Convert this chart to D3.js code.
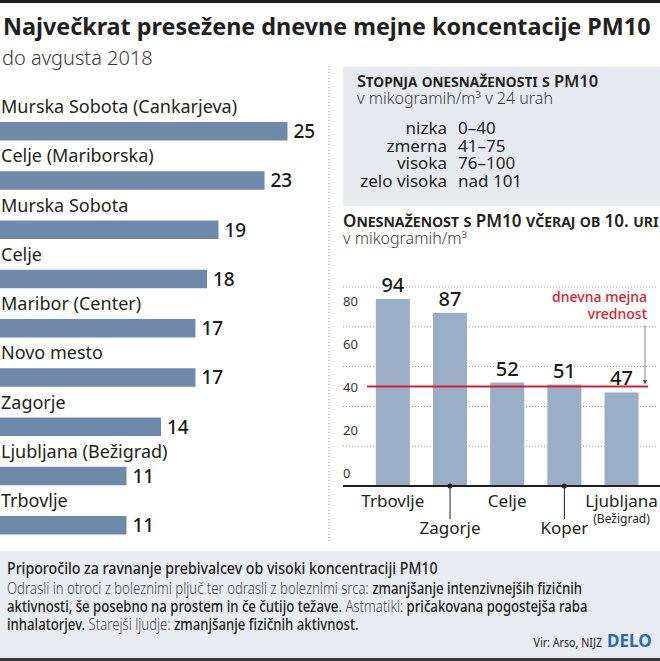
<!DOCTYPE html>
<html>
<head>
<meta charset="utf-8">
<script src="https://cdn.jsdelivr.net/npm/d3@7"></script>
<style>
  body { margin: 0; background: #fff; }
  text { font-family: "Noto Sans", "Open Sans", sans-serif; }
</style>
</head>
<body>
<script>
// Največkrat presežene dnevne mejne koncentracije PM10

var svgWidth = 660;
var svgHeight = 661;

// left chart: number of exceedances until August 2018
var stations = ["Murska Sobota (Cankarjeva)", "Celje (Mariborska)", "Murska Sobota", "Celje",
    "Maribor (Center)", "Novo mesto", "Zagorje", "Ljubljana (Bežigrad)", "Trbovlje"];
var exceedances = [25, 23, 19, 18, 17, 17, 14, 11, 11];

// right chart: PM10 yesterday at 10 am
var towns = ["Trbovlje", "Zagorje", "Celje", "Koper", "Ljubljana"];
var townNotes = ["", "", "", "", "(Bežigrad)"];
var pm10 = [94, 87, 52, 51, 47];
var dailyLimit = 50;
var yTicks = [0, 20, 40, 60, 80];
var yGrid = [20, 40, 60, 80, 100];

// legend table
var levels = ["nizka", "zmerna", "visoka", "zelo visoka"];
var levelRanges = ["0–40", "41–75", "76–100", "nad 101"];

// footer text, [text, emphasised]
var footerLines = [
    [["Odrasli in otroci z boleznimi pljuč ter odrasli z boleznimi srca: ", false], ["zmanjšanje intenzivnejših fizičnih", true]],
    [["aktivnosti, še posebno na prostem in če čutijo težave.", true], [" Astmatiki: ", false], ["pričakovana pogostejša raba", true]],
    [["inhalatorjev.", true], [" Starejši ljudje: ", false], ["zmanjšanje fizičnih aktivnost.", true]]
];

var svg = d3.select("body")
    .append("svg")
    .attr("width", svgWidth)
    .attr("height", svgHeight);

// the original uses a condensed face, so squeeze the group horizontally
function squeezeTo(g, x, width) {
    var w = g.node().getBBox().width;
    var k = width / w;
    g.attr("transform", "translate(" + x + ",0) scale(" + k + ",1)");
    return k;
}

// top rule
svg.append("rect")
    .attr("x", 0).attr("y", 0)
    .attr("width", svgWidth).attr("height", 3)
    .attr("fill", "#231f20");

var titleG = svg.append("g");
titleG.append("text")
    .attr("x", 0)
    .attr("y", 35)
    .attr("font-size", 24)
    .attr("font-weight", 700)
    .attr("fill", "#231f20")
    .text("Največkrat presežene dnevne mejne koncentacije PM10");
squeezeTo(titleG, 3, 648);

svg.append("text")
    .attr("x", 2)
    .attr("y", 65)
    .attr("font-size", 20)
    .attr("font-weight", 300)
    .attr("fill", "#3a3a3a")
    .text("do avgusta 2018");

// ---------- left chart ----------
var xLeft = d3.scaleLinear()
    .domain([0, 25])
    .range([0, 287.5]);

var yLeft = d3.scaleBand()
    .domain(stations)
    .range([104, 104 + 49.25 * stations.length]);

var left = svg.append("g");

var rows = left.selectAll("g.row")
    .data(stations)
    .enter()
    .append("g")
    .attr("class", "row")
    .attr("transform", function(d) { return "translate(0," + yLeft(d) + ")"; });

rows.append("text")
    .attr("x", 1)
    .attr("y", 9)
    .attr("font-size", 18)
    .attr("fill", "#231f20")
    .text(function(d) { return d; });

rows.append("rect")
    .attr("x", 0)
    .attr("y", 18)
    .attr("width", function(d, i) { return xLeft(exceedances[i]); })
    .attr("height", 18.5)
    .attr("fill", "#6f89aa");

rows.append("text")
    .attr("x", function(d, i) { return xLeft(exceedances[i]) + 6; })
    .attr("y", 34)
    .attr("font-size", 19)
    .attr("font-weight", 500)
    .attr("fill", "#1a1a1a")
    .text(function(d, i) { return exceedances[i]; });

// dotted separator
svg.append("line")
    .attr("x1", 329).attr("x2", 329)
    .attr("y1", 66).attr("y2", 541)
    .attr("stroke", "#8a8a8a")
    .attr("stroke-width", 1)
    .attr("stroke-dasharray", "1,2");

// ---------- legend box ----------
svg.append("rect")
    .attr("x", 343).attr("y", 67)
    .attr("width", svgWidth - 343).attr("height", 139)
    .attr("fill", "#e6eaef");

svg.append("text")
    .attr("x", 357)
    .attr("y", 87)
    .attr("font-size", 16.5)
    .attr("font-weight", 600)
    .attr("font-variant", "small-caps")
    .attr("fill", "#231f20")
    .text("Stopnja onesnaženosti s PM10");

svg.append("text")
    .attr("x", 357)
    .attr("y", 104)
    .attr("font-size", 16)
    .attr("font-weight", 300)
    .attr("fill", "#3a3a3a")
    .text("v mikogramih/m³ v 24 urah");

var legendRows = svg.append("g").selectAll("g")
    .data(levels)
    .enter()
    .append("g")
    .attr("transform", function(d, i) { return "translate(0," + (134 + i * 17.5) + ")"; });

legendRows.append("text")
    .attr("x", 447)
    .attr("text-anchor", "end")
    .attr("font-size", 17)
    .attr("fill", "#231f20")
    .text(function(d) { return d; });

legendRows.append("text")
    .attr("x", 458)
    .attr("font-size", 17)
    .attr("fill", "#231f20")
    .text(function(d, i) { return levelRanges[i]; });

svg.append("text")
    .attr("x", 343)
    .attr("y", 227)
    .attr("font-size", 17)
    .attr("font-weight", 600)
    .attr("font-variant", "small-caps")
    .attr("fill", "#231f20")
    .text("Onesnaženost s PM10 včeraj ob 10. uri");

svg.append("text")
    .attr("x", 343)
    .attr("y", 244)
    .attr("font-size", 16)
    .attr("font-weight", 300)
    .attr("fill", "#3a3a3a")
    .text("v mikogramih/m³");

// ---------- right chart ----------
var xRight = d3.scaleBand()
    .domain(towns)
    .range([364.4, 650])
    .paddingInner(0.405)
    .paddingOuter(0.2);

var yRight = d3.scaleLinear()
    .domain([0, 100])
    .range([486, 287]);

var right = svg.append("g");

right.selectAll("line.grid")
    .data(yGrid)
    .enter()
    .append("line")
    .attr("class", "grid")
    .attr("x1", 343).attr("x2", 656)
    .attr("y1", function(d) { return yRight(d); })
    .attr("y2", function(d) { return yRight(d); })
    .attr("stroke", "#9a9a9a")
    .attr("stroke-width", 1)
    .attr("stroke-dasharray", "1,2");

// tick labels sit a little above their gridlines
var leftAxis = d3.axisLeft(yRight)
    .tickValues(yTicks)
    .tickSize(0)
    .tickPadding(0);

var axisG = right.append("g")
    .attr("transform", "translate(343,0)")
    .call(leftAxis);
axisG.select(".domain").remove();
axisG.selectAll("text")
    .attr("text-anchor", "start")
    .attr("dy", function(d) { return -(9 + d * 0.15) + "px"; })
    .attr("font-size", 13)
    .attr("font-family", "Noto Sans, sans-serif")
    .attr("fill", "#333");

right.selectAll("rect.bar")
    .data(pm10)
    .enter()
    .append("rect")
    .attr("class", "bar")
    .attr("x", function(d, i) { return xRight(towns[i]); })
    .attr("y", function(d) { return yRight(d); })
    .attr("width", xRight.bandwidth())
    .attr("height", function(d) { return yRight(0) - yRight(d); })
    .attr("fill", "#9aaec7");

right.selectAll("text.value")
    .data(pm10)
    .enter()
    .append("text")
    .attr("class", "value")
    .attr("x", function(d, i) { return xRight(towns[i]) + xRight.bandwidth() / 2; })
    .attr("y", function(d) { return yRight(d) - 7; })
    .attr("text-anchor", "middle")
    .attr("font-size", 20)
    .attr("font-weight", 500)
    .attr("fill", "#1a1a1a")
    .attr("stroke", "#fff")
    .attr("stroke-width", 3)
    .attr("paint-order", "stroke")
    .text(function(d) { return d; });

// daily limit
right.append("line")
    .attr("x1", 367).attr("x2", 648)
    .attr("y1", yRight(dailyLimit)).attr("y2", yRight(dailyLimit))
    .attr("stroke", "#d7202f")
    .attr("stroke-width", 2);

var limitLabel = right.append("text")
    .attr("x", 647)
    .attr("y", 302)
    .attr("text-anchor", "end")
    .attr("font-size", 14)
    .attr("font-weight", 500)
    .attr("fill", "#d7202f");
limitLabel.append("tspan").attr("x", 647).text("dnevna mejna");
limitLabel.append("tspan").attr("x", 647).attr("dy", 17).text("vrednost");

svg.append("defs").append("marker")
    .attr("id", "arrow")
    .attr("viewBox", "0 0 6 6")
    .attr("refX", 5).attr("refY", 3)
    .attr("markerWidth", 6).attr("markerHeight", 6)
    .attr("orient", "auto")
    .append("path")
    .attr("d", "M0,0 L6,3 L0,6 Z")
    .attr("fill", "#555");

right.append("line")
    .attr("x1", 645).attr("x2", 645)
    .attr("y1", 325).attr("y2", yRight(dailyLimit) - 3)
    .attr("stroke", "#666")
    .attr("stroke-width", 0.8)
    .attr("marker-end", "url(#arrow)");

// baseline
right.append("line")
    .attr("x1", 343).attr("x2", svgWidth)
    .attr("y1", yRight(0)).attr("y2", yRight(0))
    .attr("stroke", "#231f20")
    .attr("stroke-width", 2);

// category labels, every second one dropped with a leader
var cats = right.selectAll("g.cat")
    .data(towns)
    .enter()
    .append("g")
    .attr("class", "cat")
    .attr("transform", function(d) { return "translate(" + (xRight(d) + xRight.bandwidth() / 2) + "," + yRight(0) + ")"; });

cats.filter(function(d, i) { return i % 2 === 1; })
    .append("line")
    .attr("y1", 0).attr("y2", 33)
    .attr("stroke", "#231f20")
    .attr("stroke-width", 1);

cats.filter(function(d, i) { return i % 2 === 1; })
    .append("circle")
    .attr("r", 2.5)
    .attr("fill", "#231f20");

cats.append("text")
    .attr("y", function(d, i) { return i % 2 === 1 ? 48 : 21; })
    .attr("text-anchor", "middle")
    .attr("font-size", 17)
    .attr("fill", "#231f20")
    .text(function(d) { return d; });

cats.append("text")
    .attr("y", 37)
    .attr("text-anchor", "middle")
    .attr("font-size", 12)
    .attr("fill", "#231f20")
    .text(function(d, i) { return townNotes[i]; });

// ---------- footer ----------
svg.append("rect")
    .attr("x", 0).attr("y", 551)
    .attr("width", svgWidth).attr("height", 107)
    .attr("fill", "#e8ebef");

svg.append("rect")
    .attr("x", 0).attr("y", 658)
    .attr("width", svgWidth).attr("height", 3)
    .attr("fill", "#3a3a3a");

var footTitleG = svg.append("g");
footTitleG.append("text")
    .attr("x", 0)
    .attr("y", 574)
    .attr("font-size", 16)
    .attr("font-weight", 500)
    .attr("fill", "#231f20")
    .text("Priporočilo za ravnanje prebivalcev ob visoki koncentraciji PM10");
squeezeTo(footTitleG, 7, 431);

var bodyG = svg.append("g");
var lines = bodyG.selectAll("text")
    .data(footerLines)
    .enter()
    .append("text")
    .attr("x", 0)
    .attr("y", function(d, i) { return 594 + i * 18; })
    .attr("font-size", 16);

lines.selectAll("tspan")
    .data(function(d) { return d; })
    .enter()
    .append("tspan")
    .attr("font-weight", function(d) { return d[1] ? 500 : 300; })
    .attr("fill", function(d) { return d[1] ? "#231f20" : "#4a4a4a"; })
    .text(function(d) { return d[0]; });

var k = squeezeTo(bodyG, 7, 581);

var virG = svg.append("g");
virG.append("text")
    .attr("x", 0)
    .attr("y", 647)
    .attr("text-anchor", "end")
    .attr("font-size", 13)
    .attr("fill", "#231f20")
    .text("Vir: Arso, NIJZ");
virG.attr("transform", "translate(602,0) scale(" + k + ",1)");

svg.append("text")
    .attr("x", 607)
    .attr("y", 647)
    .attr("font-family", "Liberation Serif, serif")
    .attr("font-size", 17)
    .attr("font-weight", 700)
    .attr("fill", "#2a6cb3")
    .text("DELO");
</script>
</body>
</html>
